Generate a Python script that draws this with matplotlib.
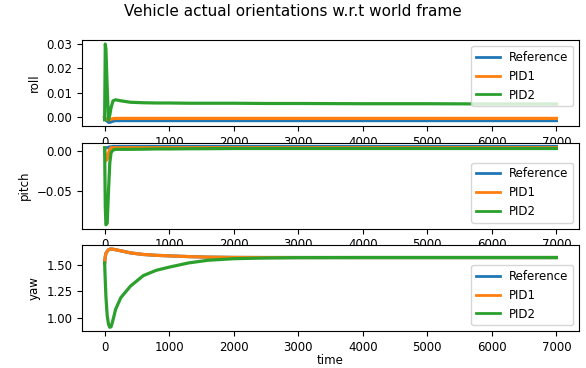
import matplotlib
matplotlib.use("Agg")
from matplotlib import pyplot as plt

# sample times (dense near the transient)
t = [0, 10, 20, 40, 60, 80, 100, 130, 170, 250, 400, 600, 800, 1000,
     1300, 1600, 2000, 2500, 3000, 4000, 5000, 6000, 7000]

roll_ref = [0.0, -0.0005, -0.001, -0.0015, -0.002, -0.002, -0.0018, -0.0015, -0.0013, -0.0013,
            -0.0013, -0.0013, -0.0013, -0.0013, -0.0013, -0.0013, -0.0013, -0.0013, -0.0013,
            -0.0013, -0.0013, -0.0013, -0.0013]
roll_pid1 = [0.0, -0.0003, -0.0006, -0.0008, -0.001, -0.0009, -0.0007, -0.0005, -0.0004, -0.0004,
             -0.0004, -0.0004, -0.0004, -0.0004, -0.0004, -0.0004, -0.0004, -0.0004, -0.0004,
             -0.0004, -0.0004, -0.0004, -0.0004]
roll_pid2 = [-0.001, 0.030, 0.028, 0.012, -0.001, 0.001, 0.004, 0.0068, 0.0072, 0.0068,
             0.0062, 0.006, 0.0059, 0.0059, 0.0058, 0.0058, 0.0058, 0.0057, 0.0057,
             0.0056, 0.0056, 0.0055, 0.0055]

pitch_ref = [0.004, 0.004, 0.004, 0.004, 0.0045, 0.005, 0.005, 0.0055, 0.0055, 0.0055,
             0.0055, 0.0055, 0.0055, 0.0055, 0.0055, 0.0055, 0.0055, 0.0055, 0.0055,
             0.0055, 0.0055, 0.0055, 0.0055]
pitch_pid1 = [0.004, -0.005, -0.012, -0.01, -0.003, 0.002, 0.004, 0.004, 0.004, 0.004,
              0.004, 0.004, 0.004, 0.004, 0.004, 0.004, 0.004, 0.004, 0.004,
              0.004, 0.004, 0.004, 0.004]
pitch_pid2 = [0.004, -0.07, -0.092, -0.09, -0.05, -0.015, -0.002, 0.001, 0.002, 0.002,
              0.002, 0.0022, 0.0025, 0.0025, 0.0027, 0.0028, 0.003, 0.003, 0.003,
              0.003, 0.003, 0.003, 0.003]

yaw_pid1 = [1.52, 1.58, 1.61, 1.63, 1.645, 1.65, 1.652, 1.65, 1.645, 1.635,
            1.615, 1.60, 1.592, 1.587, 1.58, 1.575, 1.572, 1.571, 1.571,
            1.571, 1.571, 1.571, 1.571]
yaw_ref = list(yaw_pid1)  # hidden under PID1
yaw_pid2 = [1.52, 1.35, 1.2, 1.02, 0.94, 0.91, 0.915, 0.98, 1.08, 1.19,
            1.30, 1.40, 1.45, 1.48, 1.52, 1.545, 1.56, 1.567, 1.57,
            1.571, 1.571, 1.571, 1.571]

panels = [
    ("roll", [roll_ref, roll_pid1, roll_pid2], "upper right", [0.0, 0.01, 0.02, 0.03]),
    ("pitch", [pitch_ref, pitch_pid1, pitch_pid2], "lower right", [0.0, -0.05]),
    ("yaw", [yaw_ref, yaw_pid1, yaw_pid2], "lower right", [1.0, 1.25, 1.5]),
]
names = ["Reference", "PID1", "PID2"]
colors = ["#1f77b4", "#ff7f0e", "#2ca02c"]

plt.rcParams["font.size"] = 8.5

fig, axes = plt.subplots(3, 1, figsize=(5.86, 3.68), dpi=100)
fig.subplots_adjust(left=0.14, right=0.988, top=0.891, bottom=0.10, hspace=0.19)

for ax, (label, series, loc, yt) in zip(axes, panels):
    for ys, name, c in zip(series, names, colors):
        ax.plot(t, ys, color=c, lw=2.3, label=name)
    ax.set_ylabel(label)
    ax.set_yticks(yt)
    ax.yaxis.set_major_formatter(matplotlib.ticker.FormatStrFormatter("%.2f"))
    leg = ax.legend(loc=loc)
    for ln in leg.get_lines():
        ln.set_linewidth(2)

axes[1].yaxis.set_major_formatter(
    matplotlib.ticker.FuncFormatter(lambda v, p: f"{v:.2f}".replace("-", "\u2212")))
axes[2].set_xlabel("time", labelpad=0)

fig.suptitle("Vehicle actual orientations w.r.t world frame", fontsize=11, y=0.99)

fig.savefig("out.png")
